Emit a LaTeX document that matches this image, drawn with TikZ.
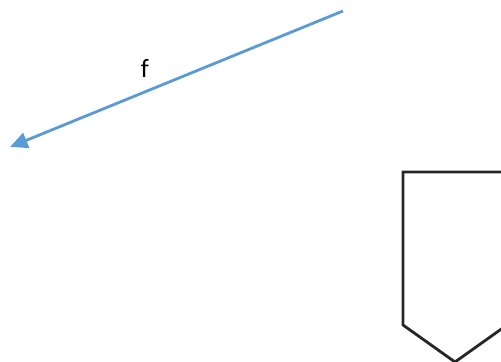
\documentclass[tikz,border=0pt]{standalone}
\usepackage{fontspec}
\setmainfont{Carlito}
\usetikzlibrary{arrows.meta}
\definecolor{arrowblue}{RGB}{91,155,213}
\definecolor{shapeline}{RGB}{38,38,38}
\begin{document}
\begin{tikzpicture}[x=0.02cm, y=-0.02cm, every node/.style={font=\fontsize{15}{18}\selectfont}]
  \useasboundingbox (0,0) rectangle (501,362);
  \clip (0,0) rectangle (501,362);
  \coordinate (fstart) at (343,11);
  \coordinate (fend) at (10,147);
  \draw[-{Triangle[length=10pt,width=9pt]}, arrowblue, line width=1.6pt] (fstart) -- (fend);
  \node (flabel) at (145,68) {f};
  % pentagon, cut off at the right and bottom
  \draw[shapeline, line width=1.6pt, line join=miter]
    (507,172) -- (403,172) -- (403,325) -- (455,362) -- (507,325);
\end{tikzpicture}
\end{document}
